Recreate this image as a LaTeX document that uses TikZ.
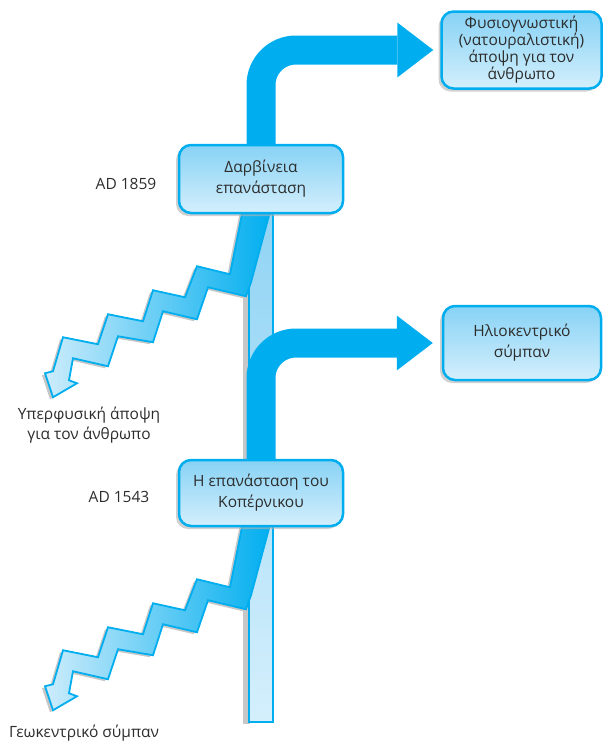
\documentclass[tikz,border=0pt]{standalone}
\usepackage{fontspec}
\setmainfont{Open Sans}
\usetikzlibrary{arrows.meta, shadows, backgrounds}

\definecolor{cyanblue}{RGB}{0,174,239}
\definecolor{boxtop}{RGB}{135,210,245}
\definecolor{boxbot}{RGB}{212,239,252}
\definecolor{zzlight}{RGB}{205,236,251}
\definecolor{txt}{RGB}{45,45,45}

% stepped arrow hanging from a box
\newcommand{\stairarrow}[1]{%
	\begin{scope}[shift={(#1.south)}]
		\fill[black!22, shift={(-3,2)}] (-17,-10) -- (-31,60) -- (-64,52) -- (-76,83) -- (-108,76) -- (-118,107) -- (-153,100) -- (-163,130) -- (-198,123) -- (-208,157) -- (-216,159) -- (-208,183) -- (-184,169) -- (-192,166) -- (-188,144) -- (-153,152) -- (-143,122) -- (-108,128) -- (-98,97) -- (-64,105) -- (-53,73) -- (-15,82) -- (-10,68) -- (11,-10) -- cycle;
		\draw[zigzag] (-17,-10) -- (-31,60) -- (-64,52) -- (-76,83) -- (-108,76) -- (-118,107) -- (-153,100) -- (-163,130) -- (-198,123) -- (-208,157) -- (-216,159) -- (-208,183) -- (-184,169) -- (-192,166) -- (-188,144) -- (-153,152) -- (-143,122) -- (-108,128) -- (-98,97) -- (-64,105) -- (-53,73) -- (-15,82) -- (-10,68) -- (11,-10) -- cycle;
	\end{scope}}

\begin{document}
\begin{tikzpicture}[x=1pt, y=-1pt,
	font=\fontsize{15.5}{21}\selectfont, text=txt,
	box/.style={draw=cyanblue, line width=2.5pt, rounded corners=12pt, top color=boxtop, bottom color=boxbot, align=center, inner sep=2pt, drop shadow={shadow xshift=-3pt, shadow yshift=-3pt, fill=black!30, opacity=0.6}},
	elbow/.style={draw=cyanblue, line width=29pt, rounded corners=35pt, -{Triangle[width=55pt, length=36pt, line width=0pt]}},
	zigzag/.style={draw=cyanblue, line width=1.8pt, line join=miter, left color=zzlight, right color=cyanblue},
	bar/.style={draw=cyanblue, line width=2pt, top color={rgb,255:red,145;green,212;blue,244}, bottom color={rgb,255:red,212;green,239;blue,252}}]
	\useasboundingbox (0,0) rectangle (604,742);

	% the two revolutions
	\node[box, minimum width=164pt, minimum height=68pt] (darwin) at (261,179) {Δαρβίνεια\\επανάσταση};
	\node[box, minimum width=164pt, minimum height=66pt] (coper) at (261,493) {Η επανάσταση του\\Κοπέρνικου};

	% outcomes
	\node[box, minimum width=160pt, minimum height=77pt, font=\fontsize{15.5}{17}\selectfont] (natural) at (521.5,50) {Φυσιογνωστική\\(νατουραλιστική)\\άποψη για τον\\άνθρωπο};
	\node[box, minimum width=158pt, minimum height=74pt] (helio) at (522,343) {Ηλιοκεντρικό\\σύμπαν};
	\node[align=center, font=\fontsize{15.5}{20}\selectfont] (superlbl) at (89,425) {Υπερφυσική άποψη\\για τον άνθρωπο};
	\node (geolbl) at (84,733) {Γεωκεντρικό σύμπαν};

	% dates
	\node (d1859) at (126,184) {AD 1859};
	\node (d1543) at (119,497) {AD 1543};

	\begin{pgfonlayer}{background}
		% light bar
		\coordinate (barend) at (261,722);
		\fill[black!22] ([xshift=-18pt]darwin.south) rectangle ([xshift=-11pt, yshift=-2pt]barend);
		\draw[bar] ([xshift=-12.5pt]darwin.south) rectangle ([xshift=12pt]barend);
		% elbow arrows
		\draw[elbow, shorten >=7pt] (darwin) |- (natural.west);
		\draw[elbow, shorten >=9pt] (coper) |- (helio.west);
		% stepped arrows
		\stairarrow{darwin}
		\stairarrow{coper}
	\end{pgfonlayer}
\end{tikzpicture}
\end{document}
